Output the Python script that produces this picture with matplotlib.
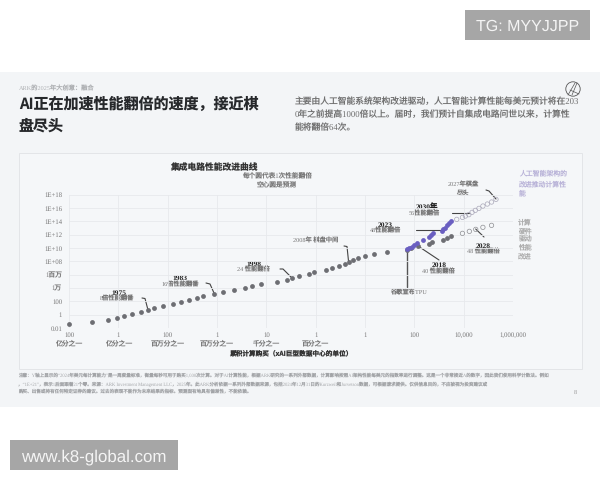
import numpy as np
import matplotlib
matplotlib.use('Agg')
import matplotlib.pyplot as plt
from matplotlib.patches import Rectangle, Circle

# log10 of cumulative compute purchased / log10 of performance
gray_x = [-11.99, -11.08, -10.41, -10.07, -9.78, -9.45, -9.07, -8.81, -8.57, -8.18, -7.78, -7.45, -7.14, -6.83, -6.56, -6.11,
          -5.75, -5.32, -4.85, -4.58, -4.22, -3.58, -3.18, -2.97, -2.68, -2.28, -2.07, -1.58, -1.33, -1.05, -0.80, -0.66,
          -0.50, -0.28, 0.00, 0.36, 0.88, 1.71, 1.85, 2.16, 2.59, 2.70, 3.17, 3.31, 3.49]
gray_y = [-1.40, -1.10, -0.80, -0.50, -0.15, 0.10, 0.40, 0.70, 1.05, 1.35, 1.60, 1.95, 2.20, 2.55, 2.80, 3.15,
          3.45, 3.75, 4.05, 4.30, 4.65, 4.95, 5.25, 5.55, 5.85, 6.15, 6.45, 6.75, 7.05, 7.35, 7.65, 7.95,
          8.25, 8.55, 8.85, 9.15, 9.45, 9.75, 10.0, 10.35, 10.65, 10.9, 11.25, 11.5, 11.85]
gray_open_x = [3.95, 4.23, 4.49, 4.78, 5.13]
gray_open_y = [12.2, 12.5, 12.8, 13.1, 13.4]
purple_x = [1.71, 1.80, 1.89, 1.98, 2.09, 2.36, 2.60, 2.66, 2.74, 3.11, 3.17, 3.24, 3.33, 3.42, 3.50]
purple_y = [9.8, 10.0, 10.2, 10.4, 10.7, 11.25, 11.6, 11.9, 12.2, 12.5, 12.8, 13.05, 13.45, 13.8, 14.1]
purple_open_x = [3.72, 3.95, 4.07, 4.21, 4.34, 4.47, 4.62, 4.78, 4.96, 5.13, 5.31]
purple_open_y = [14.3, 14.6, 14.8, 15.0, 15.35, 15.65, 15.95, 16.3, 16.6, 16.9, 17.3]

x_tick_exp = [-12, -10, -8, -6, -4, -2, 0, 2, 4, 6]
x_tick_labels = ['100\n亿分之一', '1\n亿分之一', '100\n百万分之一', '1\n百万分之一', '10\n千分之一',
                 '1\n百分之一', '1\n ', '100\n ', '10,000\n ', '1,000,000\n ']
y_tick_exp = [-2, 0, 2, 4, 6, 8, 10, 12, 14, 16, 18]
y_tick_labels = ['0.01', '1', '100', '1万', '1百万', '1E+08', '1E+10', '1E+12', '1E+14', '1E+16', '1E+18']

title_lines = ['AI正在加速性能翻倍的速度，接近棋', '盘尽头']
body_lines = ['主要由人工智能系统架构改进驱动，人工智能计算性能每美元预计将在203',
              '0年之前提高1000倍以上。届时，我们预计自集成电路问世以来，计算性',
              '能将翻倍64次。']
note_lines = ['注意：Y轴上显示的“2024年美元每计算能力”是一周度量标准，衡量每秒可用于购买1,000次计算。对于AI计算性能，根据ARK研究的一系列外部数据，计算影响按照AI架构性能每美元的指数率进行调整。这是一个非常接近A的数字，因此我们使用科学计数法。例如',
              '，“1E+21”，表示1后面跟着21个零。来源：ARK Investment Management LLC，2025年。此ARK分析依据一系列外部数据来源，包括2024年12月31日的Kurzweil和Jurvetson数据，可根据请求提供。仅供信息目的，不应被视为投资建议或',
              '购买、出售或持有任何特定证券的建议。过去的表现不能作为未来结果的指标。预测固有地具有偏差性，不能依赖。']

SERIF = ['Liberation Serif', 'Noto Sans CJK SC']
SANS = ['Noto Sans CJK SC', 'DejaVu Sans']
plt.rcParams['font.family'] = SERIF
# small CJK text gets rounded advances otherwise
plt.rcParams['text.hinting'] = 'no_hinting'

fig = plt.figure(figsize=(6, 4.8), dpi=100, facecolor='white')

# overlay in pixel coordinates for the page furniture
page = fig.add_axes([0, 0, 1, 1], zorder=0)
page.set_xlim(0, 600)
page.set_ylim(480, 0)
page.axis('off')


def put(x, y, s, size=5, color='#555555', ha='center', **kwargs):
    # baseline placement, mixed fonts shift around with va='center'
    page.text(x, y + 0.36 * size * 100 / 72, s, fontsize=size, color=color, ha=ha, va='baseline', **kwargs)


def leader(xs, ys, lw=0.8, color='#444444'):
    page.plot(xs, ys, color=color, lw=lw, solid_capstyle='round')


page.add_patch(Rectangle((0, 72), 600, 335, facecolor='#f3f5f7', edgecolor='none'))
page.add_patch(Rectangle((19, 153), 563, 216, facecolor='#f5f7f9', edgecolor='#e3e5e8', lw=0.7))

# watermarks
page.add_patch(Rectangle((465, 10), 125, 30, facecolor='#a6a6a6', edgecolor='none'))
put(527.5, 25.5, 'TG: MYYJJPP', size=11.5, color='#f4f4f4', family='Liberation Sans')
page.add_patch(Rectangle((10, 440), 168, 30, facecolor='#a6a6a6', edgecolor='none'))
put(94, 455, 'www.k8-global.com', size=12.2, color='#f4f4f4', family='Liberation Sans')

# header
put(19, 88, 'ARK的2025年大创意：融合', size=4.5, color='#b0b2b5', ha='left')
for y, line in zip([104, 125], title_lines):
    put(19, y, line, size=10.8, color='#26282b', ha='left', family=SANS, fontweight='bold')
for y, line in zip([101, 114, 127], body_lines):
    put(295, y, line, size=6.3, color='#707070', ha='left')

# logo
page.add_patch(Circle((573, 89), 7.2, facecolor='none', edgecolor='#555555', lw=0.6))
leader([568, 575], [95, 83], lw=0.5, color='#555555')
leader([572, 577], [95, 83], lw=0.5, color='#555555')
leader([570, 579], [90, 94], lw=0.5, color='#555555')

# chart headings
put(214, 167, '集成电路性能改进曲线', size=6.3, color='#333333', family=SANS, fontweight='bold')
put(277, 176, '每个圆代表1次性能翻倍', size=4.8, color='#777777')
put(277, 185, '空心圆是预测', size=4.8, color='#777777')
put(291, 353, '累积计算购买（xAI巨型数据中心的单位）', size=4.8, color='#333333', family=SANS, fontweight='bold')

# milestone labels
milestones = [
    (119, 292, '1975', 117, 298.5, '8倍性能翻番'),
    (180, 277.5, '1983', 180, 284, '16倍性能翻番'),
    (254, 263, '1998', 253, 269, '24 性能翻倍'),
    (385, 224, '2023', 385, 230, '48性能翻倍'),
    (427, 206.5, '2030年', 424, 213, '56性能翻倍'),
    (483, 245, '2028', 483, 251, '48 性能翻倍'),
    (439, 264.5, '2018', 438, 271, '40 性能翻倍'),
]
for x0, y0, year, x1, y1, text in milestones:
    put(x0, y0, year, size=5.4, color='#222222', fontweight='bold')
    put(x1, y1, text, size=4.5, color='#777777')
put(316, 240, '2008年 棋盘中间', size=4.5, color='#777777')
put(463, 184, '2027年棋盘', size=4.5, color='#777777')
put(462, 193, '尽头', size=4.5, color='#777777')
put(408, 292, '谷歌宣布TPU', size=4.5, color='#777777')

leader([142, 145, 148], [298, 298.5, 310])
leader([206, 210, 214], [283, 284, 293])
leader([280, 283, 291], [269, 269, 277])
leader([344, 347, 348.5], [246, 246.5, 261])
leader([416, 442], [230, 230])
leader([452, 469], [213, 213])
leader([486, 489, 496], [190, 191, 199])
leader([475.7, 484], [229, 237])
leader([418, 439], [246, 260])
leader([407, 407], [250, 287], lw=1.0, color='#555555')

# side notes
for y, line in zip([173, 184, 193], ['人工智能架构的', '改进推动计算性', '能']):
    put(519, y, line, size=4.95, color='#b9b3d8', ha='left')
for y, line in zip([222, 231, 239, 247, 256], ['计算', '硬件', '驱动', '性能', '改进']):
    put(518, y, line, size=4.95, color='#adadad', ha='left')

# footnote
for y, line in zip([376, 384, 391], note_lines):
    put(18, y, line, size=3.3, color='#a3a5a8', ha='left')
put(575, 393, '8', size=4.5, color='#999999')

# chart proper
ax = fig.add_axes([69 / 600, 1 - 328 / 480, 444 / 600, 133.3 / 480], zorder=1)
ax.patch.set_alpha(0)
ax.set_xscale('log')
ax.set_yscale('log')
ax.set_xlim(1e-12, 1e6)
ax.set_ylim(1e-2, 1e18)

ax.scatter(10.0 ** np.array(gray_x), 10.0 ** np.array(gray_y), s=12, color='#6d6e73', linewidths=0, clip_on=False, zorder=3)
ax.scatter(10.0 ** np.array(purple_x), 10.0 ** np.array(purple_y), s=12, color='#6a5fc1', linewidths=0, clip_on=False, zorder=4)
ax.scatter(10.0 ** np.array(gray_open_x), 10.0 ** np.array(gray_open_y), s=10, facecolors='none', edgecolors='#8d8e92', linewidths=0.5, zorder=3)
ax.scatter(10.0 ** np.array(purple_open_x), 10.0 ** np.array(purple_open_y), s=10, facecolors='none', edgecolors='#a9a7b8', linewidths=0.5, zorder=3)

ax.set_xticks([10.0 ** e for e in x_tick_exp])
ax.set_xticklabels(x_tick_labels, fontsize=4.9, color='#777777', linespacing=1.35)
ax.set_yticks([10.0 ** e for e in y_tick_exp])
ax.set_yticklabels(y_tick_labels, fontsize=4.9, color='#777777')
ax.minorticks_off()
ax.tick_params(axis='both', length=0, pad=3)
ax.tick_params(axis='y', pad=5)
ax.grid(True, color='#e7e9ec', lw=0.6)
ax.set_axisbelow(True)
for spine in ax.spines.values():
    spine.set_visible(False)

fig.savefig('out.png', dpi=100, facecolor='white')
